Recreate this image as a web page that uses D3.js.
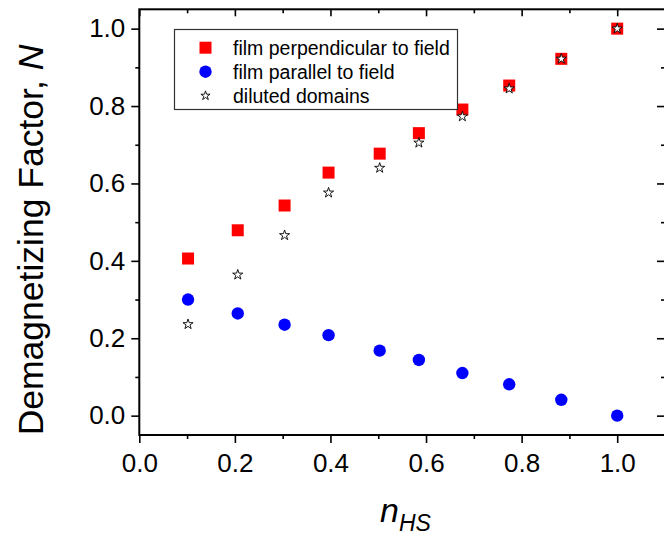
<!DOCTYPE html>
<html>
<head>
<meta charset="utf-8">
<script src="https://cdn.jsdelivr.net/npm/d3@7"></script>
<style>
  body { margin: 0; background: #fff; }
  svg { display: block; font-family: Arial, "Liberation Sans", sans-serif; }
  .axis text { font-size: 26px; fill: #000; }
  .axis line { stroke: #000; stroke-width: 1.6; }
  .axis path { display: none; }
</style>
</head>
<body>
<div class="chart"></div>
<script>
// n_HS values
var nHS = [0.102, 0.206, 0.304, 0.396, 0.503, 0.585, 0.676, 0.774, 0.883, 1.0];
// demagnetizing factor, film perpendicular to field
var perpendicular = [0.406, 0.479, 0.543, 0.628, 0.677, 0.730, 0.791, 0.853, 0.922, 1.0];
// film parallel to field
var parallel = [0.300, 0.264, 0.235, 0.208, 0.168, 0.144, 0.110, 0.081, 0.041, 0.0];
// diluted domains
var diluted = [0.236, 0.364, 0.466, 0.576, 0.640, 0.705, 0.773, 0.845, 0.922, 1.0];

var xTicks = [0, 0.2, 0.4, 0.6, 0.8, 1.0];
var xMinor = [0.1, 0.3, 0.5, 0.7, 0.9];
var yTicks = [0, 0.2, 0.4, 0.6, 0.8, 1.0];
var yMinor = [0.1, 0.3, 0.5, 0.7, 0.9];

var legendItems = ["film perpendicular to field", "film parallel to field", "diluted domains"];

const width = 664, height = 537;
const plotLeft = 139.3, plotRight = 665, plotTop = 9.3, plotBottom = 435;

var svg = d3.select(".chart").append("svg")
  .attr("width", width)
  .attr("height", height);

var x = d3.scaleLinear().domain([0, 1.1]).range([plotLeft, plotRight]);
var y = d3.scaleLinear().domain([-0.05, 1.05]).range([plotBottom, plotTop]);
var fmt = d3.format(".1f");

// major + minor ticks on all four sides
svg.append("g").attr("class", "axis")
  .attr("transform", "translate(0," + plotBottom + ")")
  .call(d3.axisBottom(x).tickValues(xTicks).tickSize(8).tickPadding(11).tickFormat(fmt));
svg.append("g").attr("class", "axis")
  .attr("transform", "translate(0," + plotBottom + ")")
  .call(d3.axisBottom(x).tickValues(xMinor).tickSize(4).tickFormat(""));
svg.append("g").attr("class", "axis")
  .attr("transform", "translate(" + plotLeft + ",0)")
  .call(d3.axisLeft(y).tickValues(yTicks).tickSize(8).tickPadding(6).tickFormat(fmt));
svg.append("g").attr("class", "axis")
  .attr("transform", "translate(" + plotLeft + ",0)")
  .call(d3.axisLeft(y).tickValues(yMinor).tickSize(4).tickFormat(""));
svg.append("g").attr("class", "axis")
  .attr("transform", "translate(0," + plotTop + ")")
  .call(d3.axisTop(x).tickValues(xTicks).tickSize(-7).tickFormat(""));
svg.append("g").attr("class", "axis")
  .attr("transform", "translate(0," + plotTop + ")")
  .call(d3.axisTop(x).tickValues(xMinor).tickSize(-4).tickFormat(""));
svg.append("g").attr("class", "axis")
  .attr("transform", "translate(" + plotRight + ",0)")
  .call(d3.axisRight(y).tickValues(yTicks).tickSize(-8).tickFormat(""));
svg.append("g").attr("class", "axis")
  .attr("transform", "translate(" + plotRight + ",0)")
  .call(d3.axisRight(y).tickValues(yMinor).tickSize(-4).tickFormat(""));

// frame
svg.append("rect")
  .attr("x", plotLeft).attr("y", plotTop)
  .attr("width", plotRight - plotLeft).attr("height", plotBottom - plotTop)
  .attr("fill", "none").attr("stroke", "#000").attr("stroke-width", 2);

var square = d3.symbol().type(d3.symbolSquare).size(144);
var circle = d3.symbol().type(d3.symbolCircle).size(121);
var star = d3.symbol().type(d3.symbolStar).size(32);

function plot(values, sym, fill, stroke) {
  svg.append("g").selectAll("path")
    .data(values)
    .enter()
    .append("path")
    .attr("d", sym)
    .attr("transform", (d, i) => "translate(" + x(nHS[i]) + "," + y(d) + ")")
    .attr("fill", fill)
    .attr("stroke", stroke)
    .attr("stroke-width", stroke == "none" ? 0 : 0.9);
}

plot(perpendicular, square, "#ff0000", "none");
plot(parallel, circle, "#0000ff", "none");
plot(diluted, star, "#fff", "#000");

// legend
var legend = svg.append("g");
legend.append("rect")
  .attr("x", 174.5).attr("y", 29.5)
  .attr("width", 283).attr("height", 80)
  .attr("fill", "#fff").attr("stroke", "#333").attr("stroke-width", 1.2);

var syms = [square, circle, star];
var fills = ["#ff0000", "#0000ff", "#fff"];
legendItems.forEach(function(t, i) {
  var cy = 47.7 + i * 24;
  legend.append("path")
    .attr("d", i == 2 ? d3.symbol().type(d3.symbolStar).size(26) : syms[i])
    .attr("transform", "translate(205.5," + cy + ")")
    .attr("fill", fills[i])
    .attr("stroke", i == 2 ? "#000" : "none")
    .attr("stroke-width", 0.9);
  legend.append("text")
    .attr("x", 233).attr("y", cy)
    .attr("dy", "0.36em")
    .style("font-size", "19.5px")
    .text(t);
});

// axis titles
var yTitle = svg.append("text")
  .attr("transform", "translate(43,240) rotate(-90)")
  .attr("text-anchor", "middle")
  .style("font-size", "35.5px");
yTitle.append("tspan").text("Demagnetizing Factor, ");
yTitle.append("tspan").style("font-style", "italic").text("N");

var xTitle = svg.append("text")
  .attr("x", 380).attr("y", 522)
  .style("font-size", "34px")
  .style("font-style", "italic");
xTitle.append("tspan").text("n");
xTitle.append("tspan").attr("dy", 9).style("font-size", "23px").text("HS");
</script>
</body>
</html>
